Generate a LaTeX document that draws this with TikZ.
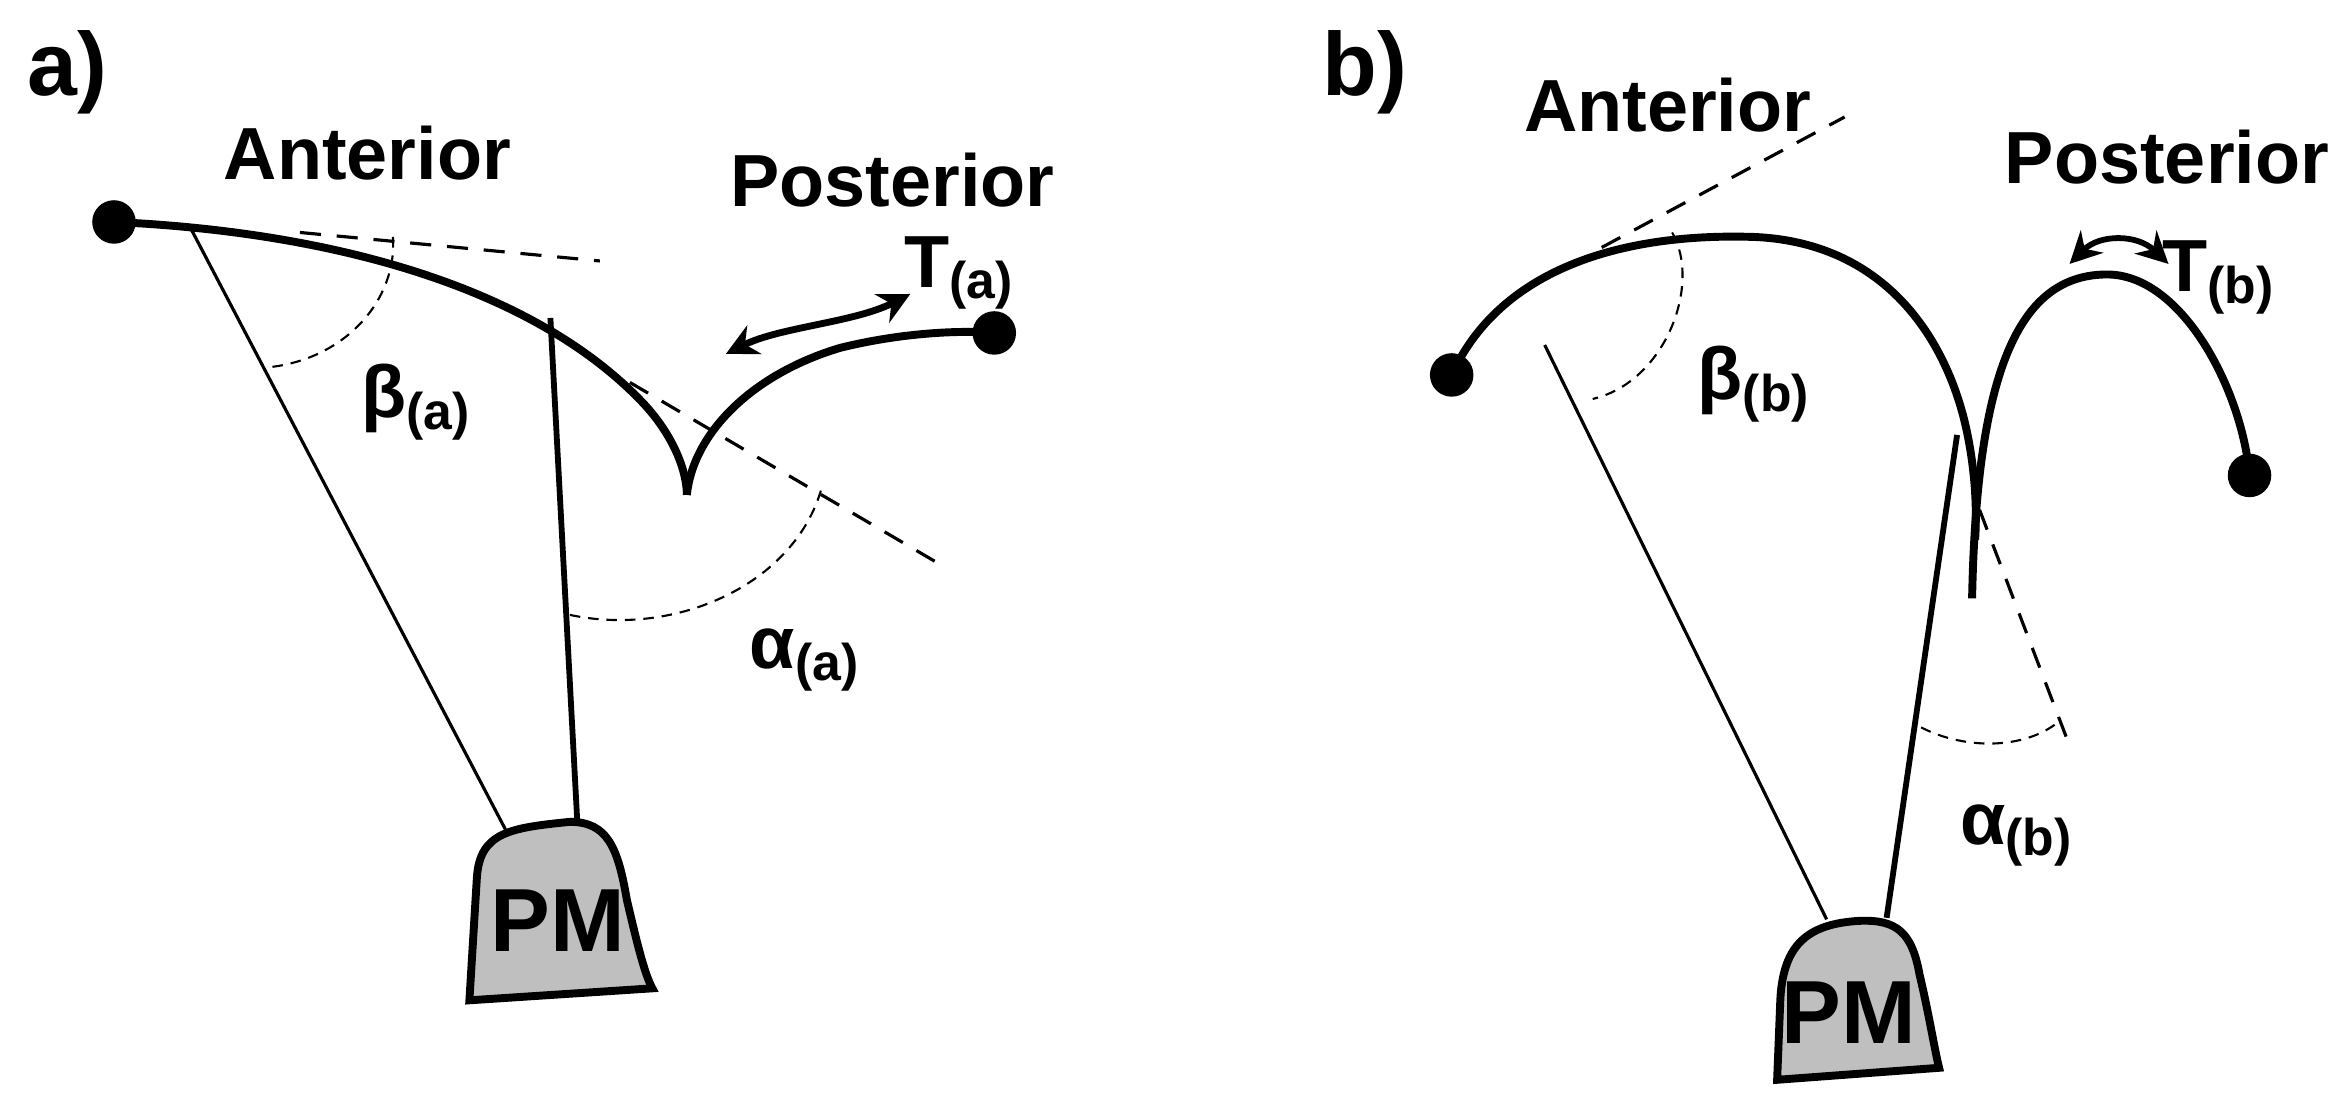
\documentclass[tikz,border=0pt]{standalone}
\usepackage{fontspec}
\setmainfont{Liberation Sans}
\usetikzlibrary{arrows.meta}
\begin{document}
\begin{tikzpicture}[x=0.01cm,y=-0.01cm,
  lbl/.style={font=\bfseries\fontsize{14}{16}\selectfont,inner sep=0},
  big/.style={font=\bfseries\fontsize{17}{19}\selectfont,inner sep=0},
  dot/.style={circle,fill=black,minimum size=0.29cm,inner sep=0},
  leaf/.style={line width=1.5pt},
  chord/.style={line width=0.6pt},
  cord2/.style={line width=1.1pt},
  tang/.style={line width=0.6pt,dash pattern=on 4pt off 3pt},
  ang/.style={line width=0.4pt,dash pattern=on 2pt off 1.5pt},
  pm/.style={line width=1.5pt,fill=black!25},
  dbl/.style={line width=1.3pt,{Stealth[length=6pt,width=6pt]}-{Stealth[length=6pt,width=6pt]}}]
% ---------- panel a
\node[big] (la) at (45,48) {a)};
\node[lbl] (anta) at (245,102) {Anterior};
\node[lbl] (posa) at (595,120) {Posterior};
\node[dot] (d1) at (76,148) {};
\node[dot] (d2) at (663,222) {};
\coordinate (cuspa) at (458,330);
\draw[leaf] (d1.center) .. controls (230,155) and (360,195) .. (430,270) .. controls (450,292) and (458,315) .. (cuspa);
\draw[leaf] (cuspa) .. controls (462,290) and (500,250) .. (560,232) .. controls (600,222) and (640,220) .. (d2.center);
\draw[tang] (200,155) -- (400,174);
\draw[tang] (420,255) -- (628,377);
\coordinate (ca) at (126,150);
\coordinate (pa1) at (337,553);
\coordinate (ta) at (367,212);
\coordinate (pa2) at (385,549);
\draw[chord] (ca) -- (pa1);
\draw[cord2] (ta) -- (pa2);
\draw[ang] (262,158) .. controls (265,200) and (230,240) .. (178,245);
\draw[ang] (380,410) .. controls (450,425) and (530,390) .. (548,325);
\draw[dbl] (607,196) .. controls (570,215) and (520,218) .. (484,236);
\node[lbl] (Ta) at (640,182) {T\textsubscript{(a)}};
\node[lbl] (Ba) at (278,268) {β\textsubscript{(a)}};
\node[lbl] (Aa) at (537,440) {α\textsubscript{(a)}};
\draw[pm] (313,667) -- (318,585) .. controls (320,555) and (340,552) .. (380,548) .. controls (405,548) and (412,565) .. (418,600) .. controls (425,630) and (430,650) .. (435,659) -- cycle;
\node[lbl,font=\bfseries\fontsize{17}{19}\selectfont] (pma) at (372,614) {PM};
% ---------- panel b
\node[big] (lb) at (910,48) {b)};
\node[lbl] (antb) at (1112,70) {Anterior};
\node[lbl] (posb) at (1445,105) {Posterior};
\node[dot] (d3) at (968,250) {};
\node[dot] (d4) at (1500,317) {};
\draw[leaf] (d3.center) .. controls (1000,180) and (1080,155) .. (1170,158) .. controls (1260,162) and (1300,230) .. (1312,290) .. controls (1318,320) and (1318,345) .. (1317,360);
\draw[leaf] (1315,399) .. controls (1318,250) and (1345,183) .. (1405,183) .. controls (1455,183) and (1495,260) .. (d4.center);
\draw[tang] (1068,165) -- (1230,78);
\draw[tang] (1320,340) -- (1378,492);
\coordinate (cb) at (1030,230);
\coordinate (pb1) at (1218,613);
\coordinate (tb) at (1305,290);
\coordinate (pb2) at (1258,612);
\draw[chord] (cb) -- (pb1);
\draw[cord2] (tb) -- (pb2);
\draw[ang] (1115,155) .. controls (1135,190) and (1110,255) .. (1062,266);
\draw[ang] (1281,485) .. controls (1310,500) and (1350,500) .. (1373,481);
\draw[dbl,line width=1.1pt] (1380,176) .. controls (1400,156) and (1425,156) .. (1446,176);
\node[lbl] (Tb) at (1480,185) {T\textsubscript{(b)}};
\node[lbl] (Bb) at (1170,256) {β\textsubscript{(b)}};
\node[lbl] (Ab) at (1345,557) {α\textsubscript{(b)}};
\draw[pm] (1185,720) -- (1187,670) .. controls (1188,630) and (1205,616) .. (1240,614) .. controls (1265,613) and (1275,622) .. (1280,650) .. controls (1286,675) and (1290,700) .. (1293,712) -- cycle;
\node[lbl,font=\bfseries\fontsize{17}{19}\selectfont] (pmb) at (1233,675) {PM};
\pgfresetboundingbox
\path[use as bounding box] (0,0) rectangle (1563,741);
\end{tikzpicture}
\end{document}
